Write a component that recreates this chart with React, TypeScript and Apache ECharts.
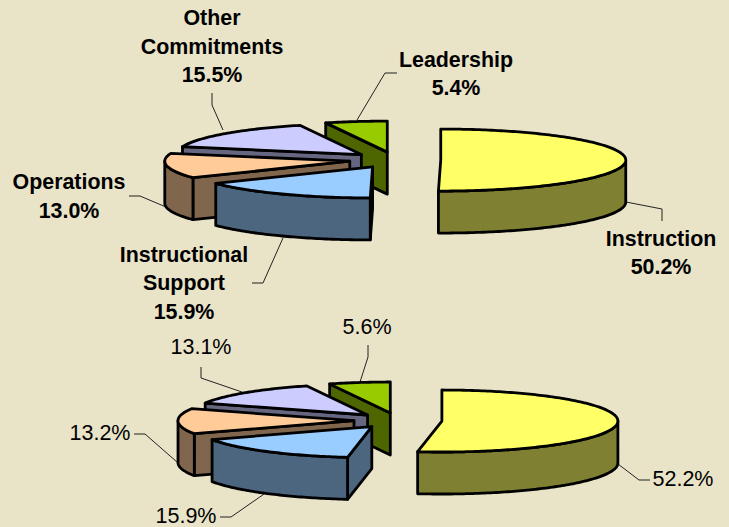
import React, { useEffect, useRef } from "react";
import * as echarts from "echarts";

// Slice order: clockwise from 12 o'clock
const categories = ["Instruction", "Instructional\nSupport", "Operations", "Other\nCommitments", "Leadership"];
const topValues = [50.2, 15.9, 13.0, 15.5, 5.4];
const bottomValues = [52.2, 15.9, 13.2, 13.1, 5.6];
const faceColors = ["#FFFF66", "#99CCFF", "#FFCC99", "#CCCCFF", "#99CC00"];
const wallColors = ["#808033", "#4D6680", "#80664D", "#666680", "#4D6600"];

const BACKGROUND = "#E9E3C8";
const OUTLINE = 2.8;

const topPie = { cx: 395, cy: 160, rx: 185, ry: 31, ex: 45.75, ey: 8, depth: 42 };
const bottomPie = { cx: 398, cy: 420.5, rx: 176, ry: 31, ex: 44, ey: 7.6, depth: 42 };

const topLabels = [
  { x: 661, y: 253 },
  { x: 184, y: 283 },
  { x: 69, y: 196.5 },
  { x: 212, y: 46.5 },
  { x: 456, y: 74 },
];
const bottomLabels = [
  { x: 683, y: 479 },
  { x: 186, y: 516 },
  { x: 100, y: 433 },
  { x: 201, y: 347 },
  { x: 367, y: 327 },
];
const topLeaders = [
  [[662, 221], [662, 209], [626, 202]],
  [[252, 283], [263, 283], [283, 238]],
  [[129, 196], [140, 196], [166, 207]],
  [[212, 93], [212, 105], [223, 130]],
  [[397, 73], [385, 73], [357, 120]],
];
const bottomLeaders = [
  [[650, 480], [639, 480], [618, 464]],
  [[220, 517], [231, 517], [267, 492]],
  [[134, 434], [145, 434], [177, 462]],
  [[201, 367], [201, 378], [242, 392]],
  [[368, 345], [368, 357], [360, 382]],
];

const rad = (d: number) => (d * Math.PI) / 180;

function pieSeries(values: number[], geo: typeof topPie, name: string) {
  const total = values.reduce((a, b) => a + b, 0);
  return {
    type: "custom",
    coordinateSystem: "none",
    name,
    silent: true,
    data: values.map((v, i) => ({ value: [v], name: categories[i] })),
    renderItem: (params: any, api: any) => {
      const i = params.dataIndex;
      const before = values.slice(0, i).reduce((a, b) => a + b, 0);
      const a0 = (before / total) * 360;
      const a1 = a0 + (api.value(0) / total) * 360;
      const mid = (a0 + a1) / 2;
      const cx = geo.cx + geo.ex * Math.sin(rad(mid));
      const cy = geo.cy - geo.ey * Math.cos(rad(mid));
      const pt = (a: number, dy = 0) => [cx + geo.rx * Math.sin(rad(a)), cy - geo.ry * Math.cos(rad(a)) + dy];
      const arc = (from: number, to: number, dy = 0) => {
        const n = Math.max(2, Math.ceil(Math.abs(to - from)));
        const out: number[][] = [];
        for (let k = 0; k <= n; k++) out.push(pt(from + ((to - from) * k) / n, dy));
        return out;
      };
      const base = (categories.length - i) * 10;
      const style = (fill: string) => ({ fill, stroke: "#000", lineWidth: OUTLINE, lineJoin: "round" });
      const children: any[] = [];
      if (a0 > 180 && a0 < 360) {
        const e = pt(a0);
        children.push({
          type: "polygon",
          z2: base,
          shape: { points: [[cx, cy], e, [e[0], e[1] + geo.depth], [cx, cy + geo.depth]] },
          style: style(wallColors[i]),
        });
      }
      const s = Math.max(a0, 90);
      const t = Math.min(a1, 270);
      if (t > s) {
        children.push({
          type: "polygon",
          z2: base + 1,
          shape: { points: [...arc(s, t), ...arc(t, s, geo.depth)] },
          style: style(wallColors[i]),
        });
      }
      children.push({
        type: "polygon",
        z2: base + 2,
        shape: { points: [[cx, cy], ...arc(a0, a1)] },
        style: style(faceColors[i]),
      });
      return { type: "group", children };
    },
  };
}

function leaderElements(leaders: number[][][]) {
  return leaders.map((points) => ({
    type: "polyline",
    silent: true,
    z: 1,
    shape: { points },
    style: { fill: "none", stroke: "#222", lineWidth: 1 },
  }));
}

export default function App() {
  const ref = useRef<HTMLDivElement>(null);
  useEffect(() => {
    document.body.style.margin = "0";
    const chart = echarts.init(ref.current!, undefined, { renderer: "svg" });
    const font = '"Liberation Sans", Arial, sans-serif';
    const texts = [
      ...topValues.map((v, i) => ({
        type: "text",
        x: topLabels[i].x,
        y: topLabels[i].y,
        style: {
          text: `${categories[i]}\n${v.toFixed(1)}%`,
          font: `bold 21.4px ${font}`,
          lineHeight: 28.5,
          fill: "#000",
          align: "center",
          verticalAlign: "middle",
        },
      })),
      ...bottomValues.map((v, i) => ({
        type: "text",
        x: bottomLabels[i].x,
        y: bottomLabels[i].y,
        style: {
          text: `${v.toFixed(1)}%`,
          font: `21.5px ${font}`,
          fill: "#000",
          align: "center",
          verticalAlign: "middle",
        },
      })),
    ];
    chart.setOption({
      animation: false,
      backgroundColor: BACKGROUND,
      series: [pieSeries(topValues, topPie, "Top"), pieSeries(bottomValues, bottomPie, "Bottom")],
      graphic: [...leaderElements(topLeaders), ...leaderElements(bottomLeaders), ...texts],
    });
    return () => chart.dispose();
  }, []);
  return <div ref={ref} style={{ position: "fixed", left: 0, top: 0, width: 729, height: 527 }} />;
}
